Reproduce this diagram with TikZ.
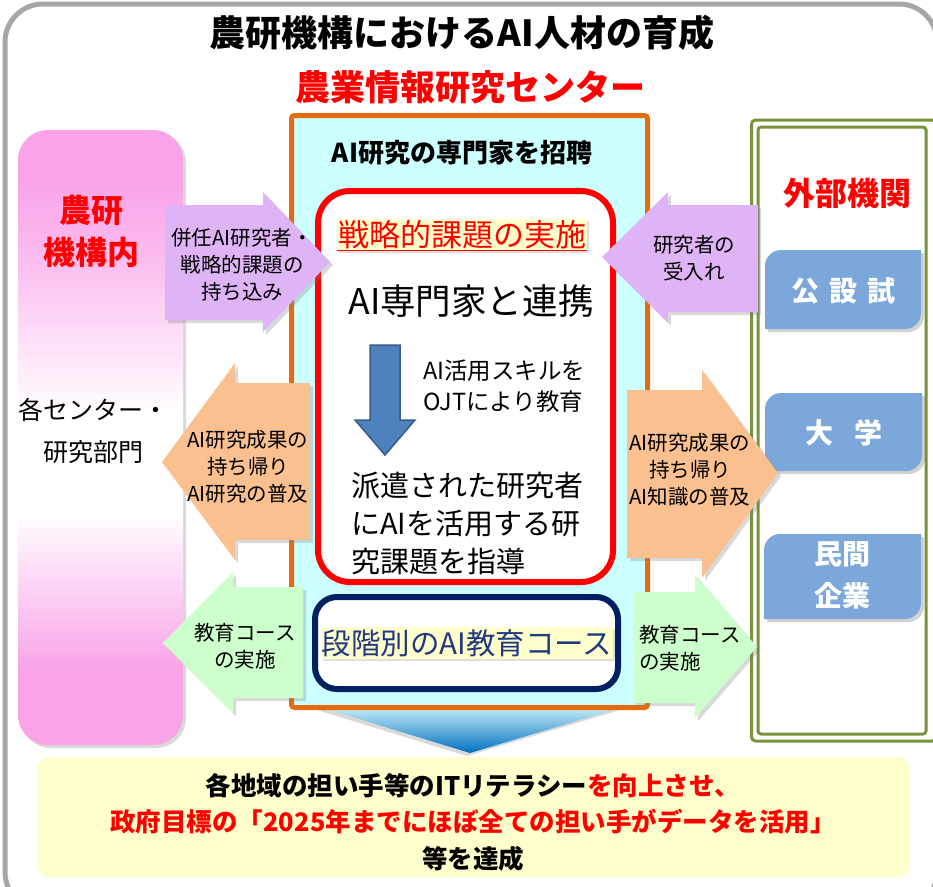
\documentclass[tikz,border=0pt]{standalone}
\usepackage{fontspec}
\setmainfont{Noto Sans CJK JP}
\usetikzlibrary{shadows,calc}
\definecolor{pinkC}{RGB}{249,163,232}
\definecolor{purpleC}{RGB}{222,180,246}
\definecolor{orangeArr}{RGB}{250,192,144}
\definecolor{greenArr}{RGB}{204,255,204}
\definecolor{orangeFrame}{RGB}{228,108,10}
\definecolor{cyanFill}{RGB}{204,255,255}
\definecolor{navyC}{RGB}{0,32,96}
\definecolor{oliveC}{RGB}{119,147,60}
\definecolor{boxBlue}{RGB}{124,167,219}
\definecolor{hlYellow}{RGB}{255,255,204}
\definecolor{arrowBlue}{RGB}{79,129,189}
\definecolor{arrowBlueDark}{RGB}{56,93,138}
\definecolor{bottomYellow}{RGB}{255,255,204}
\definecolor{courseBlue}{RGB}{32,56,130}
\definecolor{frameGray}{RGB}{166,166,166}
\definecolor{tipBlue}{RGB}{0,112,192}
\pgfdeclareverticalshading{pinkfade}{100bp}{color(0bp)=(pinkC); color(25bp)=(pinkC); color(31bp)=(pinkC); color(44bp)=(white); color(52bp)=(white); color(64bp)=(pinkC!70!white); color(71bp)=(pinkC); color(100bp)=(pinkC)}
\newcommand{\myRoundDiag}[5]{%
  \fill[boxBlue, drop shadow={opacity=0.35, shadow xshift=3pt, shadow yshift=-3pt}]
    (#1,#4) -- (#1,#2+#5) .. controls (#1,#2+0.45*#5) and (#1+0.45*#5,#2) .. (#1+#5,#2)
    -- (#3,#2) -- (#3,#4-#5) .. controls (#3,#4-0.45*#5) and (#3-0.45*#5,#4) .. (#3-#5,#4) -- cycle;}
\begin{document}
\begin{tikzpicture}[x=1pt,y=-1pt,
  bigarrow/.style={draw=none, drop shadow={opacity=0.3, shadow xshift=3pt, shadow yshift=-3pt}},
  arrtext/.style={font=\fontsize{20.5}{27}\selectfont, align=center, inner sep=0pt},
  redhead/.style={text=red, font=\bfseries\fontsize{32}{42}\selectfont, align=center, inner sep=0pt},
  whitelabel/.style={text=white, font=\bfseries\fontsize{28}{42}\selectfont, align=center, inner sep=0pt},
  highlight/.style={fill=hlYellow, inner xsep=1pt, inner ysep=2pt, drop shadow={opacity=0.25, shadow xshift=2pt, shadow yshift=-2pt}}
]
\path[use as bounding box] (0,0) rectangle (933,886);
\begin{scope}
\clip (0,0) rectangle (933,886);
% outer frame
\draw[frameGray, line width=5pt, rounded corners=38pt] (5,4) rectangle (937,910);
% titles
\node[font=\bfseries\fontsize{36}{40}\selectfont, inner sep=0pt] (title) at (462,33) {農研機構におけるAI人材の育成};
\node[text=red, font=\bfseries\fontsize{35}{40}\selectfont, inner sep=0pt] (ctitle) at (470,87) {農業情報研究センター};
% left pink panel
\shade[shading=pinkfade, rounded corners=30pt, drop shadow={opacity=0.3, shadow xshift=3pt, shadow yshift=-3pt}] (18,130) rectangle (183,745);
\node[redhead] (nk) at (91,231) {農研\\機構内};
\node[font=\fontsize{25}{42}\selectfont, align=center, inner sep=0pt] (dept) at (93,431) {各センター・\\研究部門};
% right green panel
\draw[oliveC, line width=3pt, fill=white, rounded corners=4pt] (751.5,120) rectangle (936,741);
\draw[oliveC, line width=3pt, rounded corners=3pt] (758,127) rectangle (926,734);
\node[redhead] (ext) at (847,193) {外部機関};
\myRoundDiag{765}{250}{921}{329}{16}
\myRoundDiag{765}{393}{922}{471}{16}
\myRoundDiag{764}{534}{921}{619}{16}
\node[whitelabel] (ko) at (843,291) {公\hspace{10pt}設\hspace{10pt}試};
\node[whitelabel] (dai) at (844,433) {大\hspace{22pt}学};
\node[whitelabel] (min) at (842,575) {民間\\企業};
% bottom blue arrow
\shade[top color=cyanFill!50!white, bottom color=tipBlue, drop shadow={opacity=0.3, shadow xshift=-3pt, shadow yshift=-3pt}] (297,700) -- (646,700) -- (470,753) -- cycle;
% center orange frame
\draw[orangeFrame, line width=5pt, fill=cyanFill, rounded corners=3pt] (291.5,115.5) rectangle (647.5,707.5);
\node[font=\bfseries\fontsize{26}{30}\selectfont, inner sep=0pt] (invite) at (462,153) {AI研究の専門家を招聘};
% red box
\draw[red, line width=6pt, fill=white, rounded corners=32pt] (318,191) rectangle (613,582);
\node[highlight, text=red, font=\fontsize{31}{36}\selectfont] (strat) at (462,235) {戦略的課題の実施};
\draw[red, line width=1.3pt] ([yshift=-4pt]strat.base west) -- ([yshift=-4pt]strat.base east);
\node[font=\fontsize{35.5}{40}\selectfont, inner sep=0pt] (collab) at (471,301) {AI専門家と連携};
\draw[arrowBlueDark, fill=arrowBlue, line width=1.5pt] (370,345) -- (400,345) -- (400,420) -- (415,420) -- (385,455) -- (355,420) -- (370,420) -- cycle;
\node[anchor=west, align=left, font=\fontsize{23.5}{31}\selectfont, inner sep=0pt] (ojt) at (423,386) {AI活用スキルを\\OJTにより教育};
\node[anchor=west, align=left, font=\fontsize{29}{38}\selectfont, inner sep=0pt] (guide) at (351,523) {派遣された研究者\\にAIを活用する研\\究課題を指導};
% navy box
\draw[navyC, line width=6pt, fill=white, rounded corners=22pt] (315,597) rectangle (618,689);
\node[highlight, text=courseBlue, font=\fontsize{29.5}{34}\selectfont] (course) at (467,643) {段階別のAI教育コース};
% bottom goal box
\fill[bottomYellow, rounded corners=12pt] (37,757) rectangle (910,877);
\node[font=\bfseries\fontsize{25.5}{36.5}\selectfont, align=center, inner sep=0pt] (goal) at (473,822) {各地域の担い手等のITリテラシー\textcolor{red}{を向上させ、}\\\textcolor{red}{政府目標の「2025年までにほぼ全ての担い手がデータを活用」}\\等を達成};
% block arrows
\fill[purpleC, bigarrow] (165,205) -- (263,205) -- (263,192) -- (330,262) -- (263,332) -- (263,320) -- (165,320) -- cycle;
\node[arrtext] (a1) at (242,265) {併任AI研究者・\\戦略的課題の\\持ち込み};
\fill[purpleC, bigarrow] (758,205) -- (668,205) -- (668,192) -- (602,257) -- (668,323) -- (668,312) -- (758,312) -- cycle;
\node[arrtext] (a2) at (694,258) {研究者の\\受入れ};
\fill[orangeArr, bigarrow] (310,383) -- (235,383) -- (235,363) -- (162,462) -- (235,560) -- (235,540) -- (310,540) -- cycle;
\node[arrtext] (a3) at (248,467) {AI研究成果の\\持ち帰り\\AI研究の普及};
\fill[orangeArr, bigarrow] (627,390) -- (702,390) -- (702,370) -- (778,473) -- (702,578) -- (702,558) -- (627,558) -- cycle;
\node[arrtext] (a4) at (690,470) {AI研究成果の\\持ち帰り\\AI知識の普及};
\fill[greenArr, bigarrow] (303,587) -- (233,587) -- (233,572) -- (163,643) -- (233,713) -- (233,698) -- (303,698) -- cycle;
\node[arrtext] (a5) at (245,646) {教育コース\\の実施};
\fill[greenArr, bigarrow] (633,592) -- (695,592) -- (695,575) -- (757,647) -- (695,718) -- (695,703) -- (633,703) -- cycle;
\node[arrtext, align=left, anchor=west] (a6) at (639,648) {教育コース\\の実施};
\end{scope}
\end{tikzpicture}
\end{document}
